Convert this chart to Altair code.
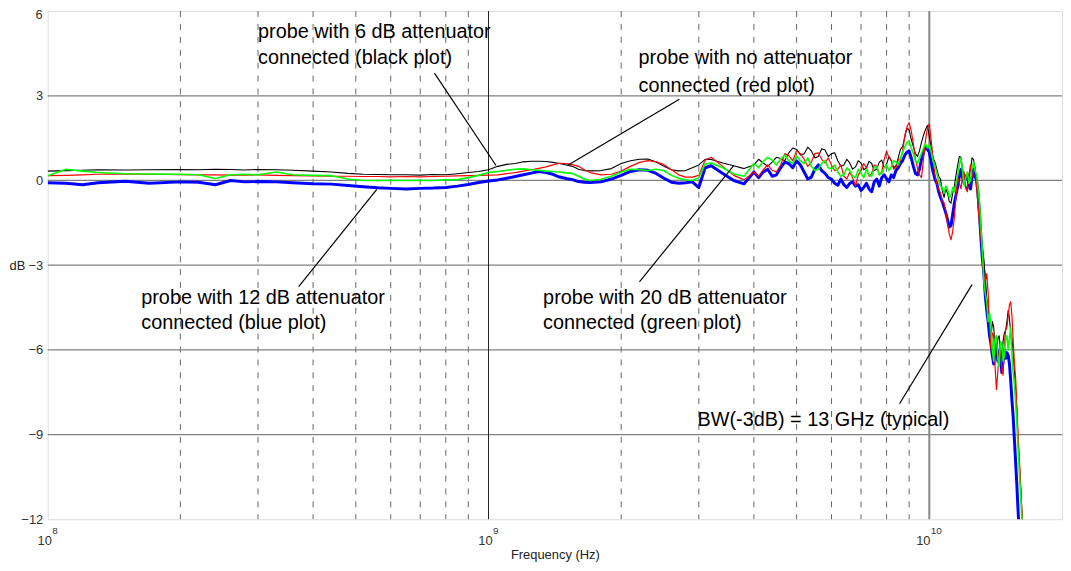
import altair as alt
import pandas as pd

FONT = "Liberation Sans"

# ---------------- data ----------------
freq_ghz = [0.1, 0.11, 0.12, 0.13, 0.15, 0.17,
            0.2, 0.22, 0.24, 0.26, 0.28,
            0.3, 0.33, 0.36,
            0.4, 0.44, 0.48,
            0.52, 0.56,
            0.6, 0.65,
            0.7, 0.75,
            0.8, 0.85,
            0.9, 0.95,
            1.0, 1.05, 1.1, 1.15, 1.2, 1.25, 1.3, 1.35, 1.4, 1.45, 1.5, 1.55, 1.6, 1.65, 1.7,
            1.8, 1.9,
            2.0, 2.1, 2.2, 2.3, 2.4, 2.5, 2.6, 2.7, 2.8, 2.9,
            3.0, 3.1,
            3.2, 3.4, 3.6, 3.8,
            4.0, 4.2, 4.4, 4.6, 4.8,
            5.0, 5.2, 5.4, 5.6, 5.8,
            6.0, 6.2, 6.4, 6.6, 6.8,
            7.0, 7.2, 7.4, 7.6, 7.8,
            8.0, 8.2, 8.4, 8.6, 8.8,
            9.0, 9.2, 9.4, 9.6, 9.8,
            10.0, 10.2, 10.4, 10.6, 10.8,
            11.0, 11.2, 11.4, 11.6, 11.8,
            12.0, 12.2, 12.4, 12.6, 12.8,
            13.0, 13.2, 13.4, 13.6, 13.8,
            14.0, 14.2, 14.4, 14.6, 14.8,
            15.0, 15.2, 15.4, 15.6, 15.8,
            16.0, 16.2, 16.4]

db_black = [0.33, 0.35, 0.36, 0.38, 0.37, 0.38,
            0.39, 0.38, 0.40, 0.39, 0.37,
            0.39, 0.38, 0.36,
            0.33, 0.30, 0.25,
            0.22, 0.21,
            0.20, 0.20,
            0.19, 0.21,
            0.20, 0.24,
            0.28, 0.32,
            0.38, 0.50, 0.57, 0.60, 0.66, 0.68, 0.68, 0.67, 0.64, 0.60, 0.55, 0.50, 0.40, 0.35, 0.34,
            0.35, 0.42,
            0.60, 0.70, 0.75, 0.76, 0.65, 0.50, 0.38, 0.34, 0.35, 0.45,
            0.55, 0.75,
            0.74, 0.62, 0.52, 0.42,
            0.55, 0.62, 0.65, 0.78, 0.98,
            1.10, 0.95, 1.05, 0.85, 1.08,
            0.95, 0.70, 0.55, 0.62, 0.48,
            0.62, 0.45, 0.60, 0.40, 0.72,
            0.58, 0.70, 0.52, 1.10, 1.55,
            1.78, 1.20, 0.85, 1.35, 1.80,
            1.55, 0.80, 0.40, 0.05, -0.60,
            -0.45, -0.80, -0.20, 0.55, 0.82,
            0.10, -0.35, 0.40, 0.75, 0.10,
            -1.00, -2.40, -3.50, -4.60, -5.60,
            -5.20, -6.20, -5.50, -6.30, -5.40,
            -5.00, -4.90, -5.60, -6.80, -8.20,
            -10.0, -11.6, -13.0]

db_red = [0.17, 0.18, 0.20, 0.22, 0.23, 0.22,
          0.21, 0.20, 0.20, 0.19, 0.19,
          0.20, 0.18, 0.17,
          0.16, 0.15, 0.15,
          0.14, 0.14,
          0.13, 0.14,
          0.13, 0.14,
          0.15, 0.16,
          0.17, 0.18,
          0.19, 0.20, 0.24, 0.28, 0.33, 0.38, 0.43, 0.48, 0.55, 0.61, 0.60, 0.56, 0.50, 0.38, 0.28,
          0.20, 0.22,
          0.33, 0.50, 0.64, 0.70, 0.66, 0.56, 0.38, 0.20, 0.12, 0.12,
          0.18, 0.72,
          0.82, 0.50, 0.18, 0.02,
          0.30, 0.38, 0.36, 0.55, 0.88,
          1.05, 0.75, 0.65, 0.98, 0.62,
          0.55, 0.40, 0.15, 0.30, -0.20,
          0.35, 0.45, 0.25, 0.50, 0.30,
          1.05, 0.70, 0.45, 0.70, 1.60,
          2.05, 1.30, 0.45, 0.10, 1.40,
          2.00, 0.75, -0.10, -0.45, -0.80,
          -1.55, -2.10, -1.30, 0.10, -0.30,
          0.30, -0.40, 0.55, 0.30, -0.20,
          -1.60, -2.90, -3.60, -4.00, -6.00,
          -5.50, -7.40, -6.10, -6.60, -5.80,
          -5.20, -4.40, -4.80, -6.50, -8.00,
          -9.80, -11.5, -13.0]

db_green = [0.17, 0.40, 0.33, 0.28, 0.24, 0.23,
            0.22, 0.20, 0.07, 0.20, 0.22,
            0.20, 0.30, 0.20,
            0.18, 0.17, 0.05,
            0.00, 0.00,
            0.01, 0.00,
            0.01, 0.00,
            0.02, 0.03,
            0.10, 0.18,
            0.28, 0.32, 0.36, 0.40, 0.41, 0.38, 0.36, 0.33, 0.32, 0.30, 0.27, 0.25, 0.15, 0.05, 0.00,
            0.04, 0.15,
            0.30, 0.40, 0.38, 0.35, 0.40, 0.35, 0.18, 0.08, 0.02, 0.00,
            0.10, 0.58,
            0.62, 0.45, 0.23, 0.15,
            0.60, 0.68, 0.72, 0.76, 0.70,
            0.87, 0.60, 0.50, 0.40, 0.70,
            0.40, 0.30, 0.20, 0.35, 0.10,
            0.25, 0.40, 0.15, 0.50, 0.25,
            0.55, 0.50, 0.65, 0.80, 1.20,
            1.40, 0.95, 0.60, 0.95, 1.30,
            1.25, 0.70, 0.25, -0.20, -0.45,
            -0.30, -0.55, -0.40, 0.20, 0.80,
            -0.20, 0.30, 0.00, 0.65, 0.20,
            -0.80, -2.50, -4.00, -5.00, -5.30,
            -6.40, -5.50, -6.60, -5.80, -6.20,
            -5.50, -5.60, -6.20, -7.20, -8.60,
            -10.3, -11.8, -13.0]

db_blue = [-0.08, -0.10, -0.15, -0.08, -0.03, -0.10,
           -0.05, -0.06, -0.15, 0.00, -0.05,
           -0.04, -0.05, -0.08,
           -0.12, -0.13, -0.18,
           -0.22, -0.26,
           -0.28, -0.30,
           -0.28, -0.27,
           -0.25, -0.20,
           -0.14, -0.07,
           -0.02, 0.02, 0.08, 0.14, 0.20, 0.26, 0.32, 0.28, 0.22, 0.12, 0.07, 0.03, -0.04, -0.06, -0.07,
           -0.05, 0.05,
           0.18, 0.32, 0.38, 0.36, 0.25, 0.08, -0.06, -0.10, -0.08, -0.05,
           -0.25, 0.45,
           0.52, 0.25, 0.00, -0.12,
           0.30, 0.30, 0.15, 0.45, 0.60,
           0.70, 0.30, 0.12, 0.55, 0.25,
           0.05, -0.17, -0.15, -0.10, -0.20,
           -0.35, -0.10, -0.40, 0.05, 0.10,
           0.06, 0.20, 0.35, 0.60, 0.90,
           1.05, 0.50, 0.20, 0.75, 1.20,
           1.00, 0.30, -0.10, -0.60, -0.95,
           -1.40, -1.60, -0.80, -0.20, 0.40,
           -0.10, 0.20, -0.30, 0.40, 0.00,
           -1.20, -2.80, -4.10, -5.00, -5.80,
           -6.50, -5.80, -6.30, -6.80, -6.00,
           -6.10, -6.50, -7.80, -9.20, -10.8,
           -12.5, -13.0, -13.0]

# extra in-between readings of the ripple above 4 GHz
freq_mid_ghz = [4.1, 4.3, 4.5, 4.7, 4.9,
                5.1, 5.3, 5.5, 5.7, 5.9,
                6.1, 6.3, 6.5, 6.7, 6.9,
                7.1, 7.3, 7.5, 7.7, 7.9,
                8.1, 8.3, 8.5, 8.7, 8.9,
                9.1, 9.3, 9.5, 9.7, 9.9,
                10.1, 10.3, 10.5, 10.7, 10.9,
                11.1, 11.3, 11.5, 11.7, 11.9,
                12.1, 12.3, 12.5, 12.7, 12.9,
                13.1, 13.3, 13.5, 13.7, 13.9,
                14.1, 14.3, 14.5, 14.7, 14.9,
                15.1, 15.3, 15.5, 15.7, 15.9]

mid_black = [0.75, 0.50, 0.82, 0.70, 1.15,
             0.90, 1.18, 0.80, 1.12, 0.85,
             0.98, 0.50, 0.75, 0.40, 0.70,
             0.38, 0.68, 0.35, 0.65, 0.45,
             0.85, 0.45, 0.80, 1.20, 1.85,
             1.45, 0.95, 1.05, 1.60, 1.95,
             1.20, 0.65, 0.15, -0.35, -0.30,
             -0.75, -0.45, 0.20, 0.85, 0.40,
             -0.20, 0.10, 0.80, 0.35, -0.40,
             -1.90, -2.80, -4.20, -4.90, -5.00,
             -6.00, -5.60, -6.10, -5.70, -5.30,
             -4.60, -5.40, -6.10, -7.40, -9.30]

mid_red = [0.15, 0.55, 0.30, 0.95, 0.70,
           0.95, 0.50, 0.95, 0.75, 0.80,
           0.35, 0.55, 0.05, 0.10, 0.20,
           0.60, 0.15, 0.55, 0.20, 0.75,
           0.80, 0.40, 0.75, 1.05, 1.90,
           1.75, 0.75, 0.20, 0.75, 1.85,
           1.40, 0.20, -0.30, -0.75, -1.10,
           -1.90, -1.80, -0.50, -0.10, 0.15,
           -0.30, 0.20, 0.10, 0.50, -0.90,
           -2.00, -3.40, -3.30, -5.20, -5.40,
           -6.60, -6.80, -5.90, -6.90, -5.30,
           -4.80, -4.30, -5.70, -7.00, -9.00]

mid_green = [0.45, 0.82, 0.55, 0.90, 0.60,
             0.70, 0.80, 0.35, 0.60, 0.45,
             0.55, 0.15, 0.45, 0.15, 0.40,
             0.10, 0.20, 0.45, 0.20, 0.45,
             0.35, 0.70, 0.55, 1.00, 1.35,
             1.15, 0.70, 0.80, 1.15, 1.15,
             1.00, 0.50, 0.00, -0.25, -0.20,
             -0.60, -0.25, -0.10, 0.55, 0.30,
             0.10, -0.10, 0.45, 0.35, -0.30,
             -1.70, -3.60, -4.30, -4.70, -6.00,
             -5.60, -6.30, -5.70, -6.40, -5.60,
             -6.00, -5.20, -6.80, -7.90, -9.50]

mid_blue = [0.10, 0.40, 0.20, 0.65, 0.45,
            0.55, 0.05, 0.40, 0.35, 0.10,
            -0.10, 0.05, -0.25, -0.05, -0.15,
            -0.25, -0.30, -0.05, -0.20, 0.20,
            -0.05, 0.10, 0.45, 0.70, 1.00,
            0.80, 0.25, 0.40, 1.00, 1.10,
            0.65, 0.05, -0.40, -0.75, -1.15,
            -1.65, -1.20, -0.50, 0.15, 0.10,
            0.15, -0.15, 0.10, 0.15, -0.50,
            -2.10, -3.30, -4.60, -5.50, -6.20,
            -6.00, -6.40, -6.00, -6.40, -6.30,
            -6.20, -7.10, -8.40, -10.0, -11.7]

y_ticks = [6, 3, 0, -3, -6, -9, -12]
h_grid = [3, 0, -3, -6, -9]
decade_exponents = [8, 9, 10]
minor_mult = [2, 3, 4, 5, 6, 7, 8, 9]

# annotations: left-aligned text lines (x in Hz, y in dB)
ann_text = ["probe with 6 dB attenuator", "connected (black plot)",
            "probe with no attenuator", "connected (red plot)",
            "probe with 12 dB attenuator", "connected (blue plot)",
            "probe with 20 dB attenuator", "connected (green plot)"]
ann_f = [3.0e8, 3.0e8, 2.19e9, 2.19e9, 1.63e8, 1.63e8, 1.33e9, 1.33e9]
ann_db = [5.27, 4.32, 4.32, 3.34, -4.15, -5.06, -4.15, -5.06]
# right-aligned bandwidth note
bw_text = ["BW(-3dB) = 13 GHz (typical)"]
bw_f = [1.11e10]
bw_db = [-8.47]

# leader lines (start / end)
lead_f1 = [7.54e8, 2.71e9, 3.71e8, 2.2e9, 8.56e9]
lead_db1 = [3.80, 2.88, -3.76, -3.59, -7.91]
lead_f2 = [1.04e9, 1.51e9, 5.58e8, 3.6e9, 1.25e10]
lead_db2 = [0.53, 0.53, -0.32, 0.53, -3.69]

# ---------------- chart ----------------
W, H = 1022, 512
xs = alt.Scale(type="log", domain=[1e8, 2e10], nice=False)
ys = alt.Scale(domain=[-12, 6], nice=False)

x_axis = alt.Axis(values=[1e8, 1e9, 1e10], labels=False, ticks=False, grid=False,
                  domain=False, title="Frequency (Hz)", titleFont=FONT,
                  titleFontSize=13, titleFontWeight="normal", titleColor="#222",
                  titleY=36, titleBaseline="middle")
y_axis = alt.Axis(values=y_ticks[1:], ticks=False, grid=False, domain=False,
                  labelFont=FONT, labelFontSize=13, labelColor="#333", labelPadding=5,
                  title="dB", titleAngle=0, titleX=-31, titleY=256, titleAlign="center",
                  titleBaseline="middle", titleFont=FONT, titleFontSize=13,
                  titleFontWeight="normal", titleColor="#222")

minor_df = pd.DataFrame({"f": [m * 10.0 ** e for e in [8, 9] for m in minor_mult]})
minor = alt.Chart(minor_df).mark_rule(color="#666", strokeWidth=1, strokeDash=[6, 7]).encode(
    x=alt.X("f:Q", scale=xs, axis=x_axis))

hgrid = alt.Chart(pd.DataFrame({"db": h_grid})).mark_rule(color="#808080", strokeWidth=1.3).encode(
    y=alt.Y("db:Q", scale=ys, axis=y_axis))

top_label = alt.Chart(pd.DataFrame({"db": y_ticks[:1], "t": [str(y_ticks[0])]})).mark_text(
    align="right", baseline="middle", font=FONT, fontSize=13, color="#333", dx=-5, dy=4).encode(
    x=alt.value(0), y=alt.Y("db:Q", scale=ys), text="t:N")

dec9 = alt.Chart(pd.DataFrame({"f": [1e9]})).mark_rule(color="#222", strokeWidth=1).encode(
    x=alt.X("f:Q", scale=xs))
dec10 = alt.Chart(pd.DataFrame({"f": [1e10]})).mark_rule(color="#888", strokeWidth=2).encode(
    x=alt.X("f:Q", scale=xs))

freq_hz = [f * 1e9 for f in freq_ghz]
freq_mid_hz = [f * 1e9 for f in freq_mid_ghz]


def series(vals, mids, color, width):
    df = pd.DataFrame({"f": freq_hz + freq_mid_hz, "db": vals + mids}).sort_values("f")
    return alt.Chart(df).mark_line(color=color, strokeWidth=width, clip=True,
                                   strokeJoin="round").encode(
        x=alt.X("f:Q", scale=xs), y=alt.Y("db:Q", scale=ys), order="f:Q")


lines = [series(db_blue, mid_blue, "#0000ff", 3.0),
         series(db_black, mid_black, "#000000", 1.1),
         series(db_red, mid_red, "#ff0000", 1.2),
         series(db_green, mid_green, "#00ff00", 1.6)]

lead_df = pd.DataFrame({"f1": lead_f1, "d1": lead_db1, "f2": lead_f2, "d2": lead_db2})
leads = alt.Chart(lead_df).mark_rule(color="#000", strokeWidth=1.2).encode(
    x=alt.X("f1:Q", scale=xs), y=alt.Y("d1:Q", scale=ys), x2="f2:Q", y2="d2:Q")

ann_df = pd.DataFrame({"f": ann_f, "db": ann_db, "t": ann_text})
anns = alt.Chart(ann_df).mark_text(align="left", baseline="middle", font=FONT,
                                   fontSize=20, color="#000").encode(
    x=alt.X("f:Q", scale=xs), y=alt.Y("db:Q", scale=ys), text="t:N")

bw_df = pd.DataFrame({"f": bw_f, "db": bw_db, "t": bw_text})
bw = alt.Chart(bw_df).mark_text(align="right", baseline="middle", font=FONT,
                                fontSize=20, color="#000").encode(
    x=alt.X("f:Q", scale=xs), y=alt.Y("db:Q", scale=ys), text="t:N")

# decade tick labels 10^n with a raised exponent
tick_layers = []
for e in decade_exponents:
    n = len(str(e))
    total = 14 + 6 * n
    d = pd.DataFrame({"f": [10.0 ** e], "b": ["10"], "s": [str(e)]})
    tick_layers.append(alt.Chart(d).mark_text(align="center", baseline="alphabetic", font=FONT,
                                              fontSize=13, color="#333", dx=-total / 2 + 7).encode(
        x=alt.X("f:Q", scale=xs), y=alt.value(538), text="b:N"))
    tick_layers.append(alt.Chart(d).mark_text(align="left", baseline="alphabetic", font=FONT,
                                              fontSize=10, color="#333", dx=-total / 2 + 14.5).encode(
        x=alt.X("f:Q", scale=xs), y=alt.value(527), text="s:N"))

chart = alt.layer(minor, hgrid, top_label, dec9, dec10, *lines, leads, anns, bw,
                  *tick_layers).properties(
    width=W, height=H,
    autosize=alt.AutoSizeParams(type="none"),
    padding={"left": 40, "top": 1, "right": 1, "bottom": 42},
).configure_view(stroke="#444", strokeWidth=1.5).configure(background="white")

chart.save("out.html", embed_options={"renderer": "svg", "actions": False})
